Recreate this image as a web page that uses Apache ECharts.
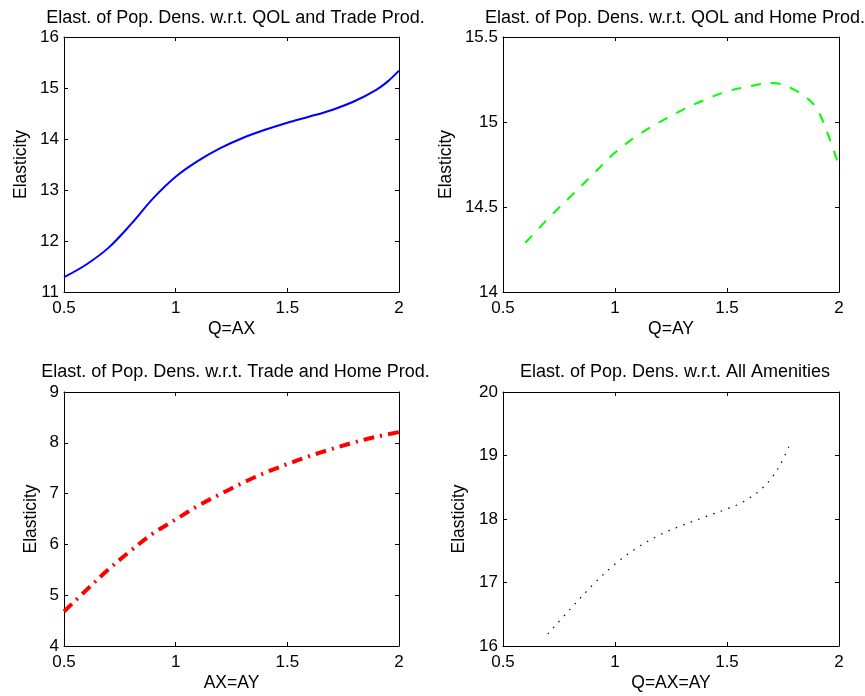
<!DOCTYPE html>
<html>
<head>
<meta charset="utf-8">
<script src="https://cdn.jsdelivr.net/npm/echarts@6/dist/echarts.min.js"></script>
<style>
    html, body { margin: 0; padding: 0; background: #fff; }
    #chart { width: 865px; height: 696px; }
</style>
</head>
<body>
<div id="chart"></div>
<script>
/** QOL and Trade Prod. */
const tradeX = [0.5, 0.6, 0.7, 0.8, 0.9, 1.0, 1.1, 1.2, 1.3, 1.4, 1.5, 1.6, 1.7, 1.8, 1.9, 1.95, 2.0];
const tradeY = [11.29, 11.54, 11.87, 12.33, 12.84, 13.26, 13.57, 13.82, 14.02, 14.18, 14.32, 14.44, 14.57, 14.74, 14.97, 15.13, 15.34];

/** QOL and Home Prod. */
const homeX = [0.6, 0.7, 0.8, 0.9, 1.0, 1.1, 1.2, 1.3, 1.4, 1.5, 1.6, 1.7, 1.75, 1.8, 1.85, 1.9, 1.95, 2.0];
const homeY = [14.29, 14.43, 14.56, 14.69, 14.82, 14.92, 15.00, 15.07, 15.13, 15.18, 15.21, 15.23, 15.22, 15.19, 15.15, 15.08, 14.93, 14.74];

/** Trade and Home Prod. */
const bothX = [0.5, 0.6, 0.7, 0.8, 0.9, 1.0, 1.1, 1.2, 1.3, 1.4, 1.5, 1.6, 1.7, 1.8, 1.9, 2.0];
const bothY = [4.68, 5.10, 5.51, 5.88, 6.22, 6.49, 6.76, 6.99, 7.21, 7.41, 7.58, 7.74, 7.88, 8.01, 8.12, 8.21];

/** All Amenities */
const allX = [0.7, 0.8, 0.9, 1.0, 1.1, 1.2, 1.3, 1.4, 1.5, 1.55, 1.6, 1.65, 1.7, 1.74, 1.78];
const allY = [16.19, 16.58, 16.96, 17.29, 17.55, 17.75, 17.90, 18.03, 18.16, 18.23, 18.33, 18.46, 18.65, 18.87, 19.17];

const titles = [
    'Elast. of Pop. Dens. w.r.t. QOL and Trade Prod.',
    'Elast. of Pop. Dens. w.r.t. QOL and Home Prod.',
    'Elast. of Pop. Dens. w.r.t. Trade and Home Prod.',
    'Elast. of Pop. Dens. w.r.t. All Amenities'
];
const xNames = ['Q=AX', 'Q=AY', 'AX=AY', 'Q=AX=AY'];
const yRanges = [[11, 16, 1], [14, 15.5, 0.5], [4, 9, 1], [16, 20, 1]];

const FONT = 'Liberation Sans, Arial, Helvetica, sans-serif';

const grids = [
    {left: 64, top: 37, width: 335, height: 255},
    {left: 503, top: 37, width: 336, height: 255},
    {left: 64, top: 392, width: 335, height: 254},
    {left: 503, top: 392, width: 336, height: 254}
];
const yGaps = [34, 48, 24, 35];

function zip(xs, ys) {
    return xs.map((x, i) => [x, ys[i]]);
}

let xAxes = [], yAxes = [], titleList = [];
grids.forEach((g, i) => {
    let line = {show: true, onZero: false, lineStyle: {color: '#000', width: 1}};
    let tick = {show: true, inside: true, length: 4, lineStyle: {color: '#000'}};
    let label = {color: '#000', fontSize: 17, fontFamily: FONT};
    xAxes.push({
        type: 'value', gridIndex: i, min: 0.5, max: 2, interval: 0.5,
        name: xNames[i], nameLocation: 'middle', nameGap: 28,
        nameTextStyle: {color: '#000', fontSize: 17.5, fontFamily: FONT},
        axisLine: line, axisTick: tick, axisLabel: Object.assign({margin: 8}, label),
        splitLine: {show: false}
    });
    xAxes.push({
        type: 'value', gridIndex: i, position: 'top', min: 0.5, max: 2, interval: 0.5,
        axisLine: line, axisTick: tick, axisLabel: {show: false}, splitLine: {show: false}
    });
    let r = yRanges[i];
    yAxes.push({
        type: 'value', gridIndex: i, min: r[0], max: r[1], interval: r[2],
        name: 'Elasticity', nameLocation: 'middle', nameGap: yGaps[i],
        nameTextStyle: {color: '#000', fontSize: 17.5, fontFamily: FONT},
        axisLine: line, axisTick: tick, axisLabel: Object.assign({margin: 5}, label),
        splitLine: {show: false}
    });
    yAxes.push({
        type: 'value', gridIndex: i, position: 'right', min: r[0], max: r[1], interval: r[2],
        axisLine: line, axisTick: tick, axisLabel: {show: false}, splitLine: {show: false}
    });
    titleList.push({
        text: titles[i], left: g.left + g.width / 2 + 4, top: i < 2 ? 9 : 363,
        textAlign: 'center', padding: 0,
        textStyle: {color: '#000', fontSize: 18, fontWeight: 'normal', fontFamily: FONT}
    });
});

function curve(i, xs, ys, color, width, dash) {
    return {
        type: 'line', xAxisIndex: i * 2, yAxisIndex: i * 2,
        data: zip(xs, ys), smooth: 0.35,
        showSymbol: false, silent: true,
        lineStyle: {color: color, width: width, type: dash}
    };
}

let chart = echarts.init(document.getElementById('chart'));
chart.setOption({
    animation: false,
    backgroundColor: '#fff',
    title: titleList,
    grid: grids,
    xAxis: xAxes,
    yAxis: yAxes,
    series: [
        curve(0, tradeX, tradeY, '#0000ff', 2, 'solid'),
        curve(1, homeX, homeY, '#00ff00', 2, [10, 10]),
        curve(2, bothX, bothY, '#ff0000', 4, [11, 6, 2, 6]),
        curve(3, allX, allY, '#000000', 1.2, [1.5, 6.5])
    ]
});
</script>
</body>
</html>
